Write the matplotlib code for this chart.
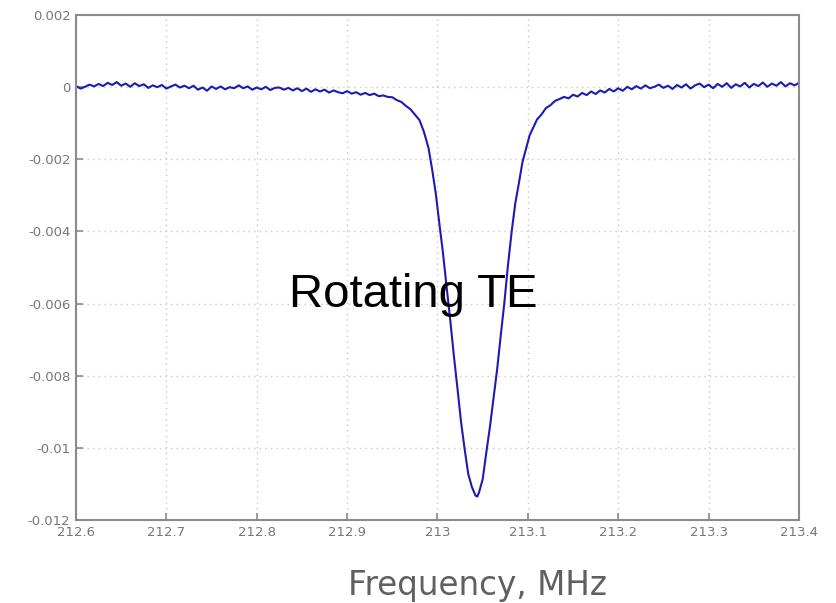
import matplotlib.pyplot as plt
from matplotlib.ticker import FixedLocator, FixedFormatter

#=======================
# Data (frequency in MHz, signal in arbitrary units)
#=======================

# flat part left of the dip, 212.600 ... 212.935 in steps of 0.005
freq_left = [212.600, 212.605, 212.610, 212.615, 212.620, 212.625, 212.630, 212.635,
             212.640, 212.645, 212.650, 212.655, 212.660, 212.665, 212.670, 212.675,
             212.680, 212.685, 212.690, 212.695, 212.700, 212.705, 212.710, 212.715,
             212.720, 212.725, 212.730, 212.735, 212.740, 212.745, 212.750, 212.755,
             212.760, 212.765, 212.770, 212.775, 212.780, 212.785, 212.790, 212.795,
             212.800, 212.805, 212.810, 212.815, 212.820, 212.825, 212.830, 212.835,
             212.840, 212.845, 212.850, 212.855, 212.860, 212.865, 212.870, 212.875,
             212.880, 212.885, 212.890, 212.895, 212.900, 212.905, 212.910, 212.915,
             212.920, 212.925, 212.930, 212.935]
signal_left = [0.00003, -0.00004, 0.00001, 0.00007, 0.00002, 0.00009, 0.00003, 0.00012,
               0.00006, 0.00014, 0.00004, 0.00010, 0.00001, 0.00011, 0.00003, 0.00008,
               -0.00002, 0.00005, 0.00000, 0.00006, -0.00004, 0.00002, 0.00007, -0.00001,
               0.00004, -0.00003, 0.00004, -0.00007, -0.00001, -0.00010, 0.00002, -0.00005,
               0.00002, -0.00006, 0.00000, -0.00003, 0.00005, -0.00003, 0.00002, -0.00007,
               -0.00001, -0.00006, 0.00001, -0.00008, -0.00002, -0.00001, -0.00007, -0.00002,
               -0.00009, -0.00003, -0.00011, -0.00004, -0.00013, -0.00006, -0.00012, -0.00007,
               -0.00015, -0.00009, -0.00014, -0.00017, -0.00011, -0.00018, -0.00014, -0.00021,
               -0.00016, -0.00022, -0.00018, -0.00025]

# the resonance dip
freq_dip = [212.940, 212.945, 212.950, 212.955, 212.960, 212.965, 212.970, 212.975,
            212.980, 212.985, 212.990, 212.994, 212.998, 213.002, 213.006, 213.010,
            213.014, 213.018, 213.022, 213.026, 213.030, 213.034, 213.038, 213.042,
            213.044, 213.046, 213.050, 213.054, 213.058, 213.062, 213.066, 213.070,
            213.074, 213.078, 213.082, 213.086, 213.090, 213.094, 213.098, 213.102,
            213.106, 213.110, 213.115, 213.120, 213.125, 213.130]
signal_dip = [-0.00023, -0.00027, -0.00028, -0.00036, -0.00041, -0.00052, -0.00061, -0.00076,
              -0.00091, -0.00124, -0.00168, -0.00227, -0.00293, -0.00377, -0.00458, -0.00552,
              -0.00643, -0.00742, -0.00833, -0.00927, -0.01003, -0.01072, -0.01108, -0.01132,
              -0.01135, -0.01123, -0.01087, -0.01013, -0.00942, -0.00863, -0.00782, -0.00688,
              -0.00597, -0.00493, -0.00402, -0.00323, -0.00267, -0.00208, -0.00170, -0.00133,
              -0.00112, -0.00090, -0.00076, -0.00058, -0.00050, -0.00038]

# flat part right of the dip, 213.135 ... 213.400 in steps of 0.005
freq_right = [213.135, 213.140, 213.145, 213.150, 213.155, 213.160, 213.165, 213.170,
              213.175, 213.180, 213.185, 213.190, 213.195, 213.200, 213.205, 213.210,
              213.215, 213.220, 213.225, 213.230, 213.235, 213.240, 213.245, 213.250,
              213.255, 213.260, 213.265, 213.270, 213.275, 213.280, 213.285, 213.290,
              213.295, 213.300, 213.305, 213.310, 213.315, 213.320, 213.325, 213.330,
              213.335, 213.340, 213.345, 213.350, 213.355, 213.360, 213.365, 213.370,
              213.375, 213.380, 213.385, 213.390, 213.395, 213.400]
signal_right = [-0.00033, -0.00027, -0.00031, -0.00021, -0.00026, -0.00016, -0.00022, -0.00012,
                -0.00019, -0.00009, -0.00015, -0.00005, -0.00012, -0.00003, -0.00010, 0.00001,
                -0.00006, 0.00003, -0.00004, 0.00005, -0.00003, 0.00001, 0.00007, -0.00002,
                0.00004, -0.00005, 0.00006, -0.00001, 0.00008, -0.00004, 0.00005, 0.00010,
                0.00000, 0.00007, -0.00003, 0.00009, 0.00001, 0.00011, -0.00002, 0.00008,
                0.00002, 0.00012, -0.00001, 0.00009, 0.00003, 0.00013, 0.00001, 0.00010,
                0.00004, 0.00014, 0.00002, 0.00011, 0.00005, 0.00012]

x_ticks = [212.6, 212.7, 212.8, 212.9, 213.0, 213.1, 213.2, 213.3, 213.4]
x_labels = ['212.6', '212.7', '212.8', '212.9', '213', '213.1', '213.2', '213.3', '213.4']
y_ticks = [0.002, 0.0, -0.002, -0.004, -0.006, -0.008, -0.01, -0.012]
y_labels = ['0.002', '0', '-0.002', '-0.004', '-0.006', '-0.008', '-0.01', '-0.012']

freq = freq_left + freq_dip + freq_right
signal = signal_left + signal_dip + signal_right

#=======================
# Plot
#=======================

fig = plt.figure(figsize=(8.37, 6.03), dpi=100)
ax = fig.add_axes([0.0908, 0.1376, 0.8638, 0.8375])

ax.plot(freq, signal, color='#1c1cb0', lw=1.5)

ax.set_xlim(212.6, 213.4)
ax.set_ylim(-0.012, 0.002)
ax.xaxis.set_major_locator(FixedLocator(x_ticks))
ax.xaxis.set_major_formatter(FixedFormatter(x_labels))
ax.yaxis.set_major_locator(FixedLocator(y_ticks))
ax.yaxis.set_major_formatter(FixedFormatter(y_labels))

ax.grid(True, color='#c8c8c8', linestyle=(0, (1, 3)), lw=1.0)
for side in ['left', 'right', 'top', 'bottom']:
    ax.spines[side].set_color('#8a8a8a')
    ax.spines[side].set_linewidth(1.5)
ax.tick_params(direction='in', length=5, width=1.2, color='#8a8a8a',
               labelcolor='#777777', labelsize=9.5, pad=4)

ax.text(0.4668, 0.4455, 'Rotating TE', transform=ax.transAxes, ha='center', va='center',
        fontsize=34, family='Liberation Sans', color='black')
ax.set_xlabel('Frequency, MHz', fontsize=23.5, color='#606060')
ax.xaxis.set_label_coords(0.555, -0.097)

fig.savefig('out.png', dpi=100)
